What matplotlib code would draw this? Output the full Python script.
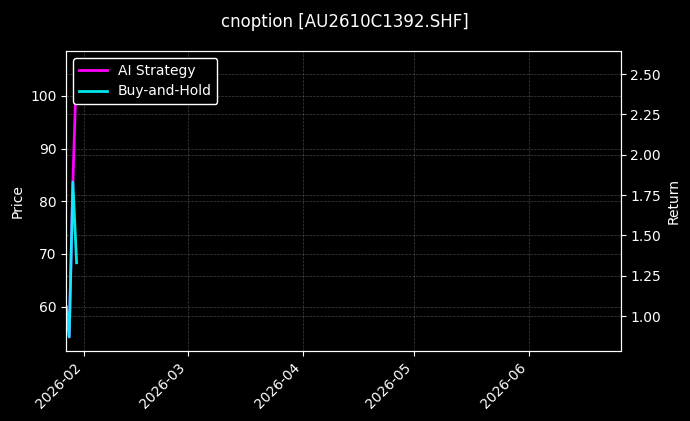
import numpy as np
import matplotlib
matplotlib.use("Agg")
import matplotlib.pyplot as plt
import matplotlib.dates as mdates
import datetime as dt

# data
dates = [dt.datetime(2026, 1, 27, 6), dt.datetime(2026, 1, 28), dt.datetime(2026, 1, 29),
         dt.datetime(2026, 1, 30)]
ai_return = [1.056, 0.87, 1.83, 2.56]
bh_return = [1.056, 0.87, 1.83, 1.33]

title = "cnoption [AU2610C1392.SHF]"

plt.style.use("dark_background")
fig = plt.figure(figsize=(6.9, 4.21), dpi=100)
ax1 = fig.add_axes([66.4 / 690, 70 / 421, (620.5 - 66.4) / 690, 300 / 421])
ax2 = ax1.twinx()

ax2.plot(dates, ai_return, color="#ff00ff", lw=2, label="AI Strategy")
ax2.plot(dates, bh_return, color="#00ffff", lw=2, alpha=0.9, label="Buy-and-Hold")

ax1.set_xlim(dt.datetime(2026, 1, 27, 6), dt.datetime(2026, 6, 25, 19))
ax1.set_ylim(51.6, 108.5)
ax2.set_ylim(0.783, 2.643)
ax1.set_yticks([60, 70, 80, 90, 100])
ax2.set_yticks([1.0, 1.25, 1.5, 1.75, 2.0, 2.25, 2.5])

ax1.xaxis.set_major_locator(mdates.MonthLocator())
ax1.xaxis.set_major_formatter(mdates.DateFormatter("%Y-%m"))
plt.setp(ax1.get_xticklabels(), rotation=45, ha="right")

ax1.grid(True, ls="--", lw=0.5, color="gray", alpha=0.5)
ax2.grid(True, ls="--", lw=0.5, color="gray", alpha=0.5)

ax1.set_ylabel("Price")
ax2.set_ylabel("Return")
fig.suptitle(title, fontsize=12, y=0.97)

leg = ax2.legend(loc="upper left", facecolor="black", edgecolor="white", framealpha=1)

fig.savefig("out.png", dpi=100, facecolor="black")
